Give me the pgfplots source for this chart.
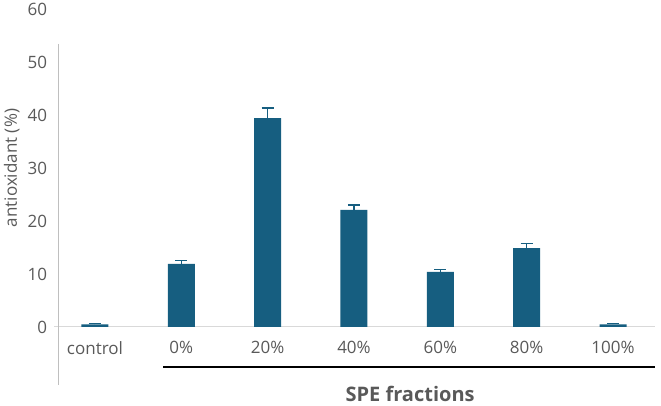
\documentclass[border=0pt]{standalone}
\usepackage{fontspec}
\setmainfont{Open Sans}
\usepackage{pgfplots}
\pgfplotsset{compat=1.18}
\definecolor{barblue}{RGB}{22,94,128}
\definecolor{txtgray}{RGB}{89,89,89}
\definecolor{zeroline}{RGB}{217,217,217}
\definecolor{axgray}{RGB}{191,191,191}

\begin{document}
\begin{tikzpicture}[x=1pt,y=1pt]
\useasboundingbox (0,0) rectangle (661,406);
\begin{axis}[
  at={(58.7pt,79pt)}, anchor=south west,
  scale only axis, width=596.6pt, height=318pt,
  xmin=-0.42, xmax=6.49, ymin=0, ymax=60,
  axis line style={draw=none}, major tick length=0pt,
  clip=false,
  xtick=data,
  xticklabels={control,0\%,20\%,40\%,60\%,80\%,100\%},
  ytick={0,10,20,30,40,50,60},
  tick label style={font=\fontsize{17}{19}\selectfont, text=txtgray},
  yticklabel style={xshift=-8pt},
  xticklabel style={yshift=-11pt},
  /pgf/number format/assume math mode=true,
  ylabel={antioxidant (\%)},
  ylabel style={at={(rel axis cs:0,0.5)}, anchor=center, yshift=47pt,
    font=\fontsize{17}{19}\selectfont, text=txtgray},
]
\draw[zeroline, line width=1pt] (axis cs:-0.47,0) -- (axis cs:6.49,0);
\draw[axgray, line width=1pt] (axis cs:-0.42,53.4) -- (axis cs:-0.42,-10.9);
\addplot[ybar, bar width=27pt, fill=barblue, draw=none,
  error bars/.cd, y dir=plus, y explicit,
  error bar style={barblue, line width=1.3pt},
  error mark options={rotate=90, mark size=6pt, barblue, line width=1.3pt}]
  table[x=x, y=y, y error=e] {
  x y e
  0 0.5 0.2
  1 11.9 0.7
  2 39.4 1.9
  3 22.1 0.9
  4 10.4 0.5
  5 14.9 0.9
  6 0.5 0.2
  };
\draw[black, line width=1.2pt] (axis cs:0.79,-7.55) -- (axis cs:6.49,-7.55);
\node[font=\fontsize{20}{24}\selectfont\bfseries, text=txtgray] at (axis cs:3.65,-12.6) {SPE fractions};
\end{axis}
\end{tikzpicture}
\end{document}
